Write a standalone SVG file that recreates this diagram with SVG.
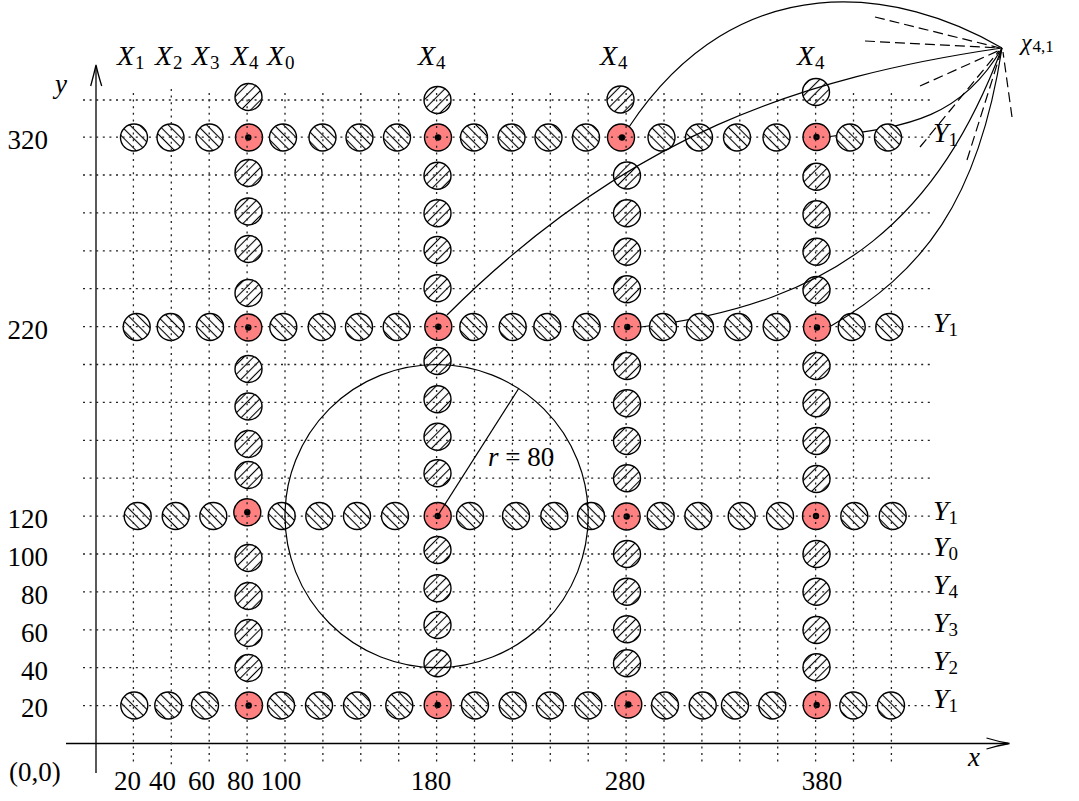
<svg xmlns="http://www.w3.org/2000/svg" width="1079" height="801" viewBox="0 0 1079 801">
<style>
.t{font-family:"Liberation Serif",serif;font-size:27px;fill:#000}
.i{font-style:italic}
.s{font-size:19px;font-style:normal}
.h{fill:url(#nw);stroke:#000;stroke-width:1.4}
.v{fill:url(#ne);stroke:#000;stroke-width:1.4}
.r{fill:#ff8080;stroke:#000;stroke-width:1.4}
.dot{fill:#000}
.grid path{fill:none;stroke:#222;stroke-width:1.3;stroke-dasharray:2 4.6}
.ax{fill:none;stroke:#000;stroke-width:1.3}
.c{fill:none;stroke:#000;stroke-width:1.2}
.d{fill:none;stroke:#000;stroke-width:1.2;stroke-dasharray:10 5}
</style>
<defs>
<pattern id="ne" patternUnits="userSpaceOnUse" width="6.8" height="6.8" patternTransform="rotate(45)">
<rect width="6.8" height="6.8" fill="#fff"/>
<line x1="3.4" y1="0" x2="3.4" y2="6.8" stroke="#000" stroke-width="1.1"/>
</pattern>
<pattern id="nw" patternUnits="userSpaceOnUse" width="6.8" height="6.8" patternTransform="rotate(-45)">
<rect width="6.8" height="6.8" fill="#fff"/>
<line x1="3.4" y1="0" x2="3.4" y2="6.8" stroke="#000" stroke-width="1.1"/>
</pattern>
<mask id="hide" maskUnits="userSpaceOnUse" x="0" y="0" width="1079" height="801">
<rect width="1079" height="801" fill="#fff"/>
<circle cx="850" cy="137.5" r="13.5" fill="#000"/>
<circle cx="888" cy="137.5" r="13.5" fill="#000"/>
<circle cx="663" cy="327" r="13.5" fill="#000"/>
<circle cx="700" cy="327" r="13.5" fill="#000"/>
</mask>
</defs>
<rect width="1079" height="801" fill="#fff"/>

<!-- axes -->
<g id="axes">
<path class="ax" d="M96,773 V66"/>
<path class="ax" d="M90.7,86 Q94,74 96,65 Q98,74 101.7,86"/>
<path class="ax" d="M66,743.5 H1008"/>
<path class="ax" d="M986.5,738 Q998,741.5 1009.5,743.5 Q998,745.5 986.5,749"/>
</g>

<!-- nodes -->
<g id="nodes">
<g id="row320">
<g id="n-r320-1"><circle class="h" cx="134" cy="137.5" r="13.5"/></g>
<g id="n-r320-2"><circle class="h" cx="170.5" cy="137.5" r="13.5"/></g>
<g id="n-r320-3"><circle class="h" cx="209.5" cy="137.5" r="13.5"/></g>
<g id="n-r320-5"><circle class="h" cx="283" cy="137.5" r="13.5"/></g>
<g id="n-r320-6"><circle class="h" cx="322.5" cy="137.5" r="13.5"/></g>
<g id="n-r320-7"><circle class="h" cx="359.5" cy="137.5" r="13.5"/></g>
<g id="n-r320-8"><circle class="h" cx="397" cy="137.5" r="13.5"/></g>
<g id="n-r320-10"><circle class="h" cx="474" cy="137.5" r="13.5"/></g>
<g id="n-r320-11"><circle class="h" cx="511.5" cy="137.5" r="13.5"/></g>
<g id="n-r320-12"><circle class="h" cx="548.5" cy="137.5" r="13.5"/></g>
<g id="n-r320-13"><circle class="h" cx="586" cy="137.5" r="13.5"/></g>
<g id="n-r320-15"><circle class="h" cx="661.5" cy="137.5" r="13.5"/></g>
<g id="n-r320-16"><circle class="h" cx="699" cy="137.5" r="13.5"/></g>
<g id="n-r320-17"><circle class="h" cx="737" cy="137.5" r="13.5"/></g>
<g id="n-r320-18"><circle class="h" cx="776.5" cy="137.5" r="13.5"/></g>
<g id="n-r320-20"><circle class="h" cx="850" cy="137.5" r="13.5"/></g>
<g id="n-r320-21"><circle class="h" cx="888" cy="137.5" r="13.5"/></g>
</g>
<g id="row220">
<g id="n-r220-1"><circle class="h" cx="136.7" cy="327" r="13.5"/></g>
<g id="n-r220-2"><circle class="h" cx="170.7" cy="327" r="13.5"/></g>
<g id="n-r220-3"><circle class="h" cx="210" cy="327" r="13.5"/></g>
<g id="n-r220-5"><circle class="h" cx="283.3" cy="327" r="13.5"/></g>
<g id="n-r220-6"><circle class="h" cx="321.7" cy="327" r="13.5"/></g>
<g id="n-r220-7"><circle class="h" cx="359" cy="327" r="13.5"/></g>
<g id="n-r220-8"><circle class="h" cx="396.7" cy="327" r="13.5"/></g>
<g id="n-r220-10"><circle class="h" cx="473.3" cy="327" r="13.5"/></g>
<g id="n-r220-11"><circle class="h" cx="512.7" cy="327" r="13.5"/></g>
<g id="n-r220-12"><circle class="h" cx="547.3" cy="327" r="13.5"/></g>
<g id="n-r220-13"><circle class="h" cx="586.7" cy="327" r="13.5"/></g>
<g id="n-r220-15"><circle class="h" cx="663" cy="327" r="13.5"/></g>
<g id="n-r220-16"><circle class="h" cx="700" cy="327" r="13.5"/></g>
<g id="n-r220-17"><circle class="h" cx="738.3" cy="327" r="13.5"/></g>
<g id="n-r220-18"><circle class="h" cx="776.7" cy="327" r="13.5"/></g>
<g id="n-r220-20"><circle class="h" cx="851.7" cy="327" r="13.5"/></g>
<g id="n-r220-21"><circle class="h" cx="889.3" cy="327" r="13.5"/></g>
</g>
<g id="row120">
<g id="n-r120-1"><circle class="h" cx="137.7" cy="516" r="13.5"/></g>
<g id="n-r120-2"><circle class="h" cx="175.7" cy="516" r="13.5"/></g>
<g id="n-r120-3"><circle class="h" cx="213.3" cy="516" r="13.5"/></g>
<g id="n-r120-5"><circle class="h" cx="281.7" cy="516" r="13.5"/></g>
<g id="n-r120-6"><circle class="h" cx="319.3" cy="516" r="13.5"/></g>
<g id="n-r120-7"><circle class="h" cx="357" cy="516" r="13.5"/></g>
<g id="n-r120-8"><circle class="h" cx="395" cy="516" r="13.5"/></g>
<g id="n-r120-10"><circle class="h" cx="470" cy="516" r="13.5"/></g>
<g id="n-r120-11"><circle class="h" cx="516" cy="516" r="13.5"/></g>
<g id="n-r120-12"><circle class="h" cx="554.3" cy="516" r="13.5"/></g>
<g id="n-r120-13"><circle class="h" cx="591" cy="516" r="13.5"/></g>
<g id="n-r120-15"><circle class="h" cx="660.7" cy="516" r="13.5"/></g>
<g id="n-r120-16"><circle class="h" cx="698.3" cy="516" r="13.5"/></g>
<g id="n-r120-17"><circle class="h" cx="741.7" cy="516" r="13.5"/></g>
<g id="n-r120-18"><circle class="h" cx="780" cy="516" r="13.5"/></g>
<g id="n-r120-20"><circle class="h" cx="854.3" cy="516" r="13.5"/></g>
<g id="n-r120-21"><circle class="h" cx="892.7" cy="516" r="13.5"/></g>
</g>
<g id="row20">
<g id="n-r20-1"><circle class="h" cx="134.3" cy="705.5" r="13.5"/></g>
<g id="n-r20-2"><circle class="h" cx="168.3" cy="705.5" r="13.5"/></g>
<g id="n-r20-3"><circle class="h" cx="205" cy="705.5" r="13.5"/></g>
<g id="n-r20-5"><circle class="h" cx="281" cy="705.5" r="13.5"/></g>
<g id="n-r20-6"><circle class="h" cx="319" cy="705.5" r="13.5"/></g>
<g id="n-r20-7"><circle class="h" cx="357" cy="705.5" r="13.5"/></g>
<g id="n-r20-8"><circle class="h" cx="399.3" cy="705.5" r="13.5"/></g>
<g id="n-r20-10"><circle class="h" cx="475" cy="705.5" r="13.5"/></g>
<g id="n-r20-11"><circle class="h" cx="512.7" cy="705.5" r="13.5"/></g>
<g id="n-r20-12"><circle class="h" cx="550" cy="705.5" r="13.5"/></g>
<g id="n-r20-13"><circle class="h" cx="588.3" cy="705.5" r="13.5"/></g>
<g id="n-r20-15"><circle class="h" cx="665" cy="705.5" r="13.5"/></g>
<g id="n-r20-16"><circle class="h" cx="702.7" cy="705.5" r="13.5"/></g>
<g id="n-r20-17"><circle class="h" cx="735" cy="705.5" r="13.5"/></g>
<g id="n-r20-18"><circle class="h" cx="772.3" cy="705.5" r="13.5"/></g>
<g id="n-r20-20"><circle class="h" cx="853.3" cy="705.5" r="13.5"/></g>
<g id="n-r20-21"><circle class="h" cx="891" cy="705.5" r="13.5"/></g>
</g>
<g id="col80">
<g id="n-c80-1"><circle class="v" cx="248.5" cy="97" r="13.5"/></g>
<g id="n-c80-2"><circle class="v" cx="248.5" cy="173" r="13.5"/></g>
<g id="n-c80-3"><circle class="v" cx="248.5" cy="211.5" r="13.5"/></g>
<g id="n-c80-4"><circle class="v" cx="248.5" cy="249" r="13.5"/></g>
<g id="n-c80-5"><circle class="v" cx="248.5" cy="293" r="13.5"/></g>
<g id="n-c80-6"><circle class="v" cx="248.5" cy="369" r="13.5"/></g>
<g id="n-c80-7"><circle class="v" cx="248.5" cy="406.5" r="13.5"/></g>
<g id="n-c80-8"><circle class="v" cx="248.5" cy="444" r="13.5"/></g>
<g id="n-c80-9"><circle class="v" cx="248.5" cy="475" r="13.5"/></g>
<g id="n-c80-10"><circle class="v" cx="248.5" cy="558" r="13.5"/></g>
<g id="n-c80-11"><circle class="v" cx="248.5" cy="596" r="13.5"/></g>
<g id="n-c80-12"><circle class="v" cx="248.5" cy="633" r="13.5"/></g>
<g id="n-c80-13"><circle class="v" cx="248.5" cy="668" r="13.5"/></g>
</g>
<g id="col180">
<g id="n-c180-1"><circle class="v" cx="437.5" cy="100" r="13.5"/></g>
<g id="n-c180-2"><circle class="v" cx="437.5" cy="175.7" r="13.5"/></g>
<g id="n-c180-3"><circle class="v" cx="437.5" cy="213.3" r="13.5"/></g>
<g id="n-c180-4"><circle class="v" cx="437.5" cy="250" r="13.5"/></g>
<g id="n-c180-5"><circle class="v" cx="437.5" cy="288.3" r="13.5"/></g>
<g id="n-c180-6"><circle class="v" cx="437.5" cy="361" r="13.5"/></g>
<g id="n-c180-7"><circle class="v" cx="437.5" cy="399.3" r="13.5"/></g>
<g id="n-c180-8"><circle class="v" cx="437.5" cy="436.7" r="13.5"/></g>
<g id="n-c180-9"><circle class="v" cx="437.5" cy="473.3" r="13.5"/></g>
<g id="n-c180-10"><circle class="v" cx="437.5" cy="550" r="13.5"/></g>
<g id="n-c180-11"><circle class="v" cx="437.5" cy="588.3" r="13.5"/></g>
<g id="n-c180-12"><circle class="v" cx="437.5" cy="625" r="13.5"/></g>
<g id="n-c180-13"><circle class="v" cx="437.5" cy="663.3" r="13.5"/></g>
</g>
<g id="col280">
<g id="n-c280-1"><circle class="v" cx="620.5" cy="99.5" r="13.5"/></g>
<g id="n-c280-2"><circle class="v" cx="627" cy="175.5" r="13.5"/></g>
<g id="n-c280-3"><circle class="v" cx="627" cy="213.3" r="13.5"/></g>
<g id="n-c280-4"><circle class="v" cx="627" cy="251.7" r="13.5"/></g>
<g id="n-c280-5"><circle class="v" cx="627" cy="289.3" r="13.5"/></g>
<g id="n-c280-6"><circle class="v" cx="627" cy="366" r="13.5"/></g>
<g id="n-c280-7"><circle class="v" cx="627" cy="403.3" r="13.5"/></g>
<g id="n-c280-8"><circle class="v" cx="627" cy="441" r="13.5"/></g>
<g id="n-c280-9"><circle class="v" cx="627" cy="478.3" r="13.5"/></g>
<g id="n-c280-10"><circle class="v" cx="627" cy="554" r="13.5"/></g>
<g id="n-c280-11"><circle class="v" cx="627" cy="591.7" r="13.5"/></g>
<g id="n-c280-12"><circle class="v" cx="627" cy="629.3" r="13.5"/></g>
<g id="n-c280-13"><circle class="v" cx="627" cy="663.3" r="13.5"/></g>
</g>
<g id="col380">
<g id="n-c380-1"><circle class="v" cx="816" cy="92" r="13.5"/></g>
<g id="n-c380-2"><circle class="v" cx="816.5" cy="176.7" r="13.5"/></g>
<g id="n-c380-3"><circle class="v" cx="816.5" cy="214.3" r="13.5"/></g>
<g id="n-c380-4"><circle class="v" cx="816.5" cy="251.7" r="13.5"/></g>
<g id="n-c380-5"><circle class="v" cx="816.5" cy="290" r="13.5"/></g>
<g id="n-c380-6"><circle class="v" cx="816.5" cy="366" r="13.5"/></g>
<g id="n-c380-7"><circle class="v" cx="816.5" cy="403.3" r="13.5"/></g>
<g id="n-c380-8"><circle class="v" cx="816.5" cy="441" r="13.5"/></g>
<g id="n-c380-9"><circle class="v" cx="816.5" cy="479" r="13.5"/></g>
<g id="n-c380-10"><circle class="v" cx="816.5" cy="554" r="13.5"/></g>
<g id="n-c380-11"><circle class="v" cx="816.5" cy="591.7" r="13.5"/></g>
<g id="n-c380-12"><circle class="v" cx="816.5" cy="630" r="13.5"/></g>
<g id="n-c380-13"><circle class="v" cx="816.5" cy="667.3" r="13.5"/></g>
</g>
<g id="red">
<g id="n-red-80-320"><circle class="r" cx="249" cy="137.5" r="13.5"/><circle class="dot" cx="248.3" cy="137.5" r="3.2"/></g>
<g id="n-red-180-320"><circle class="r" cx="438" cy="137.5" r="13.5"/><circle class="dot" cx="438" cy="137.5" r="3.2"/></g>
<g id="n-red-280-320"><circle class="r" cx="621" cy="137.5" r="13.5"/><circle class="dot" cx="622" cy="137.5" r="3.2"/></g>
<g id="n-red-380-320"><circle class="r" cx="816.5" cy="137" r="13.5"/><circle class="dot" cx="816.5" cy="137" r="3.2"/></g>
<g id="n-red-80-220"><circle class="r" cx="248.3" cy="327.5" r="13.5"/><circle class="dot" cx="248.3" cy="327.5" r="3.2"/></g>
<g id="n-red-180-220"><circle class="r" cx="438.3" cy="326.7" r="13.5"/><circle class="dot" cx="438.3" cy="326.7" r="3.2"/></g>
<g id="n-red-280-220"><circle class="r" cx="627.3" cy="327" r="13.5"/><circle class="dot" cx="627.3" cy="327" r="3.2"/></g>
<g id="n-red-380-220"><circle class="r" cx="817" cy="327.5" r="13.5"/><circle class="dot" cx="817" cy="327.5" r="3.2"/></g>
<g id="n-red-80-120"><circle class="r" cx="247.3" cy="512.3" r="13.5"/><circle class="dot" cx="247.3" cy="512.3" r="3.2"/></g>
<g id="n-red-180-120"><circle class="r" cx="437.7" cy="516" r="13.5"/><circle class="dot" cx="437.7" cy="516" r="3.2"/></g>
<g id="n-red-280-120"><circle class="r" cx="626.7" cy="516.5" r="13.5"/><circle class="dot" cx="626.7" cy="516.5" r="3.2"/></g>
<g id="n-red-380-120"><circle class="r" cx="816" cy="516" r="13.5"/><circle class="dot" cx="816" cy="516" r="3.2"/></g>
<g id="n-red-80-20"><circle class="r" cx="249" cy="705.5" r="13.5"/><circle class="dot" cx="248.7" cy="705.5" r="3.2"/></g>
<g id="n-red-180-20"><circle class="r" cx="437.7" cy="705" r="13.5"/><circle class="dot" cx="437.7" cy="705" r="3.2"/></g>
<g id="n-red-280-20"><circle class="r" cx="628.3" cy="704.5" r="13.5"/><circle class="dot" cx="628.3" cy="704.5" r="3.2"/></g>
<g id="n-red-380-20"><circle class="r" cx="816.7" cy="705" r="13.5"/><circle class="dot" cx="816.7" cy="705" r="3.2"/></g>
</g>
</g>

<!-- grid (drawn over nodes, as in the reference) -->
<g class="grid" id="grid">
<path d="M83,705.6H934M83,667.7H934M83,629.8H934M83,591.9H934M83,554H934M83,516.1H934M83,478.2H934M83,440.3H934M83,402.4H934M83,364.5H934M83,326.6H934M83,288.7H934M83,250.8H934M83,212.9H934M83,175H934M83,137.1H934M83,100H934"/>
<path d="M133.4,93V765M171.3,89V765M209.2,93V765M247.1,93V765M285,93V765M322.9,93V765M360.8,93V765M398.7,93V765M436.6,93V765M474.5,93V765M512.4,93V765M550.3,93V765M588.2,93V765M626.1,93V765M664,93V765M701.9,93V765M739.8,93V765M777.7,93V765M815.6,93V765M853.5,93V765M891.4,93V765"/>
</g>

<!-- circle r = 80 -->
<g id="range">
<circle class="c" cx="436.6" cy="516.1" r="151.6"/>
<path class="c" d="M437.5,516 L519,388"/>
</g>

<!-- connectors -->
<g id="connectors">
<path class="c" d="M629,127 C739,-38 900,-12 1002,48"/>
<path class="c" d="M447,315 C627,135 803,77 1002,48"/>
<path class="c" mask="url(#hide)" d="M830,136.5 C910,126.4 962,117 1002,48"/>
<path class="c" mask="url(#hide)" d="M641,327 C841,303 939,215 1002,48"/>
<path class="c" d="M831,326 C922,272 978,203 1002,48"/>
<path class="d" d="M875,17 L1000,48"/>
<path class="d" d="M865,41 L1000,48"/>
<path class="d" d="M920,86 L1000,50"/>
<path class="d" d="M920,147 L999,51"/>
<path class="d" d="M967,160 L1001,52"/>
<path class="d" d="M1012,117 L1003,52"/>
</g>

<!-- labels -->
<g id="labels">
<text class="t i" x="117" y="65" style="font-size:28px">X<tspan class="s" dx="1" dy="4">1</tspan></text>
<text class="t i" x="155" y="65" style="font-size:28px">X<tspan class="s" dx="1" dy="4">2</tspan></text>
<text class="t i" x="192" y="65" style="font-size:28px">X<tspan class="s" dx="1" dy="4">3</tspan></text>
<text class="t i" x="231" y="65" style="font-size:28px">X<tspan class="s" dx="1" dy="4">4</tspan></text>
<text class="t i" x="267" y="65" style="font-size:28px">X<tspan class="s" dx="1" dy="4">0</tspan></text>
<text class="t i" x="418" y="65" style="font-size:28px">X<tspan class="s" dx="1" dy="4">4</tspan></text>
<text class="t i" x="600" y="65" style="font-size:28px">X<tspan class="s" dx="1" dy="4">4</tspan></text>
<text class="t i" x="797" y="65" style="font-size:28px">X<tspan class="s" dx="1" dy="4">4</tspan></text>
<text class="t i" x="1021" y="50" style="font-size:24px">χ<tspan class="s" style="font-size:17px" dx="1" dy="2">4,1</tspan></text>

<text class="t i" x="933" y="142" style="font-size:28px">Y<tspan class="s" dx="0" dy="4">1</tspan></text>
<text class="t i" x="933" y="332" style="font-size:28px">Y<tspan class="s" dx="0" dy="4">1</tspan></text>
<text class="t i" x="933" y="520" style="font-size:28px">Y<tspan class="s" dx="0" dy="4">1</tspan></text>
<text class="t i" x="933" y="556" style="font-size:28px">Y<tspan class="s" dx="0" dy="4">0</tspan></text>
<text class="t i" x="933" y="594" style="font-size:28px">Y<tspan class="s" dx="0" dy="4">4</tspan></text>
<text class="t i" x="933" y="632" style="font-size:28px">Y<tspan class="s" dx="0" dy="4">3</tspan></text>
<text class="t i" x="933" y="670" style="font-size:28px">Y<tspan class="s" dx="0" dy="4">2</tspan></text>
<text class="t i" x="933" y="708" style="font-size:28px">Y<tspan class="s" dx="0" dy="4">1</tspan></text>

<text class="t" x="48" y="148.5" text-anchor="end">320</text>
<text class="t" x="48" y="338.5" text-anchor="end">220</text>
<text class="t" x="48" y="527.5" text-anchor="end">120</text>
<text class="t" x="48" y="565.5" text-anchor="end">100</text>
<text class="t" x="48" y="603.5" text-anchor="end">80</text>
<text class="t" x="48" y="641.5" text-anchor="end">60</text>
<text class="t" x="48" y="679.5" text-anchor="end">40</text>
<text class="t" x="48" y="716.5" text-anchor="end">20</text>
<text class="t" x="9" y="781">(0,0)</text>

<text class="t" x="127.5" y="790" text-anchor="middle">20</text>
<text class="t" x="162.5" y="790" text-anchor="middle">40</text>
<text class="t" x="201.5" y="790" text-anchor="middle">60</text>
<text class="t" x="240.5" y="790" text-anchor="middle">80</text>
<text class="t" x="281" y="790" text-anchor="middle">100</text>
<text class="t" x="431" y="790" text-anchor="middle">180</text>
<text class="t" x="625" y="790" text-anchor="middle">280</text>
<text class="t" x="822" y="790" text-anchor="middle">380</text>

<text class="t i" x="968" y="766">x</text>
<text class="t i" x="55" y="93">y</text>
<text class="t" x="488" y="466"><tspan class="i">r</tspan> = 80</text>
</g>
</svg>
